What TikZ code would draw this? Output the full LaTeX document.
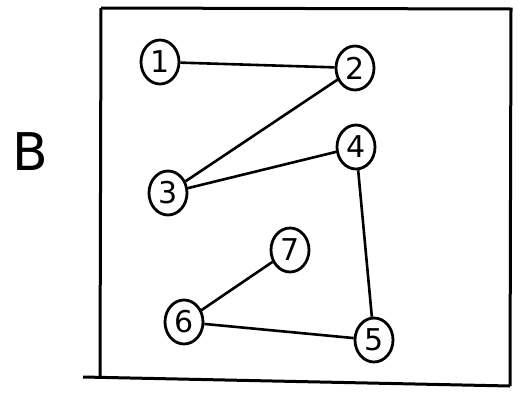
\documentclass[tikz,border=0pt]{standalone}
\usepackage{fontspec}
\setmainfont{DejaVu Sans}
\usetikzlibrary{shapes.geometric}
\begin{document}
\begin{tikzpicture}[x=1pt,y=-1pt,
  vert/.style={ellipse,draw,line width=2.8pt,minimum width=38pt,minimum height=44pt,inner sep=0pt,font=\fontsize{30}{30}\selectfont},
  edge/.style={line width=2.6pt},
  frame/.style={line width=3pt}]
\useasboundingbox (0,0) rectangle (530,394);
\fill[white] (0,0) rectangle (530,394);
\node[font=\fontsize{52}{52}\selectfont] (B) at (30,152) {B};
\coordinate (tl) at (101,8);
\coordinate (tr) at (511,9);
\coordinate (bl) at (100,377);
\coordinate (br) at (510,386);
\coordinate (bll) at (83,377);
\draw[frame] (tl) -- (tr) -- (br);
\draw[frame] (tl) -- (bl);
\draw[frame] (bll) -- (br);
\node[vert] (n1) at (160,62) {1};
\node[vert] (n2) at (355,68) {2};
\node[vert] (n3) at (168,193) {3};
\node[vert] (n4) at (356,147) {4};
\node[vert] (n7) at (290,250) {7};
\node[vert] (n6) at (184,322) {6};
\node[vert] (n5) at (374,340) {5};
\draw[edge] (n1) -- (n2);
\draw[edge] (n2) -- (n3);
\draw[edge] (n3) -- (n4);
\draw[edge] (n4) -- (n5);
\draw[edge] (n5) -- (n6);
\draw[edge] (n6) -- (n7);
\end{tikzpicture}
\end{document}
